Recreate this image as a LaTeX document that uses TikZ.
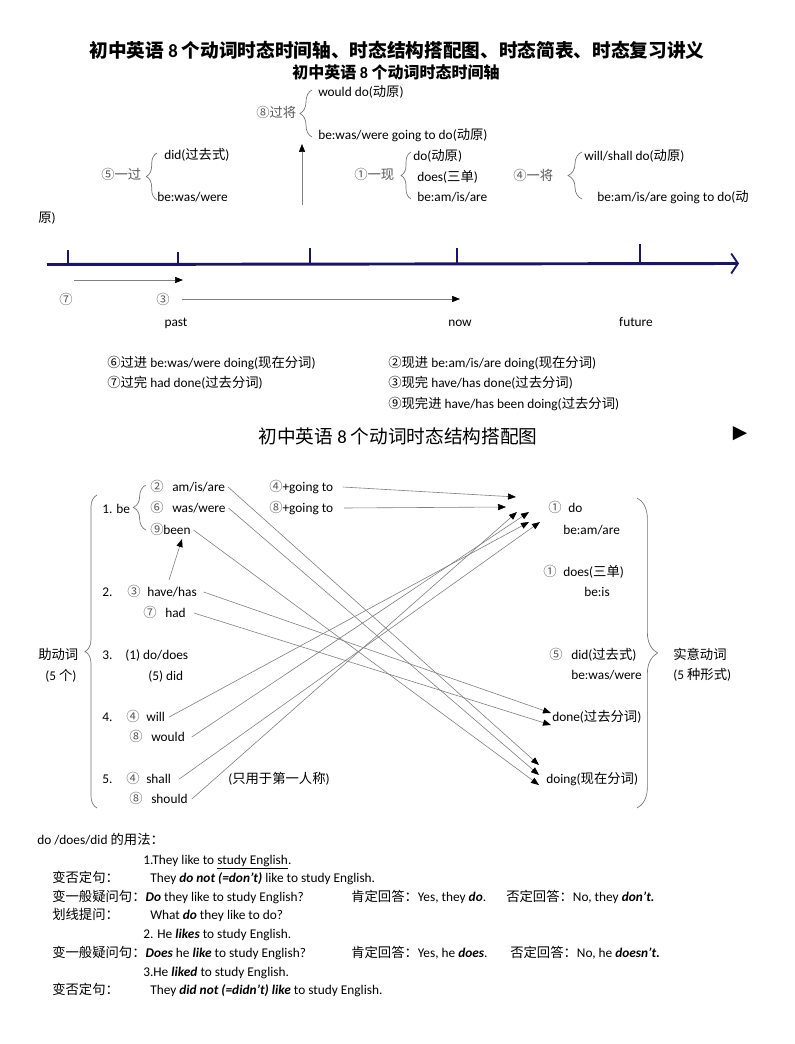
\documentclass[tikz,border=0pt]{standalone}
\usepackage{fontspec}
\setmainfont{Carlito}
\newfontfamily\cjkf{Noto Sans CJK SC}
\newfontfamily\dejavu{DejaVu Sans}
\usetikzlibrary{arrows.meta,decorations.pathreplacing}
\definecolor{navy}{RGB}{25,22,100}
\newXeTeXintercharclass\cjkclass
\newcount\mycnt
\def\setcjkrange#1#2{\mycnt=#1\relax\loop\XeTeXcharclass\mycnt=\cjkclass\advance\mycnt by 1\relax\ifnum\mycnt<#2\relax\repeat}
\setcjkrange{"4E00}{"A000}
\setcjkrange{"3000}{"3040}
\setcjkrange{"FF00}{"FFF0}
\setcjkrange{"2460}{"2500}
\XeTeXinterchartoks 0 \cjkclass = {\cjkf}
\XeTeXinterchartoks 4095 \cjkclass = {\cjkf}
\XeTeXinterchartoks \cjkclass 0 = {\rmfamily}
\XeTeXinterchartoks \cjkclass 4095 = {\rmfamily}
\XeTeXinterchartokenstate=1
\begin{document}
\begin{tikzpicture}[x=0.75pt,y=-0.75pt,
 txt/.style={inner sep=0pt, anchor=west, font=\fontsize{10pt}{12pt}\selectfont, text height=8pt, text depth=1.5pt},
 lbl/.style={txt, text=black!65},
 ttl/.style={inner sep=0pt, font=\fontsize{#1}{#1}\selectfont\bfseries},
 conn/.style={draw=black!50, line width=0.45pt, -{Triangle[length=6pt,width=4.6pt,color=black]}},
 brc/.style={draw=black!55, line width=0.5pt, decorate, decoration={brace, amplitude=#1}},
 axis/.style={draw=navy, line width=2.2pt},
 tick/.style={draw=navy, line width=1.7pt}]
\useasboundingbox (0,0) rectangle (794,1044);
\fill[white] (0,0) rectangle (794,1044);

% ---------- titles
\node[ttl=14pt] (title) at (397,50) {初中英语 8 个动词时态时间轴、时态结构搭配图、时态简表、时态复习讲义};
\node[ttl=12pt] (title2) at (396,72) {初中英语 8 个动词时态时间轴};

% ---------- tense branches above the time line
\node[lbl] (gj) at (256,113) {⑧过将};
\draw[brc=9pt] (312,137) -- (312,90);
\node[txt] (wd) at (318,92) {would do(动原)};
\node[txt] (bwg) at (318,135) {be:was/were going to do(动原)};
\coordinate (upB) at (302,205);
\coordinate (upT) at (302,144);
\draw[conn] (upB) -- (upT);

\node[lbl] (yg) at (101,175) {⑤一过};
\draw[brc=8pt] (157,200) -- (157,153);
\node[txt] (did0) at (164,155) {did(过去式)};
\node[txt] (bww0) at (157,197) {be:was/were};
\node[txt] (yuan) at (38,218) {原)};

\node[lbl] (yx) at (354,175) {①一现};
\draw[brc=7.5pt] (411,199) -- (411,152);
\node[txt] (do0) at (413,156) {do(动原)};
\node[txt] (does0) at (417,177) {does(三单)};
\node[txt] (bam0) at (417,197) {be:am/is/are};

\node[lbl] (yj) at (513,176) {④一将};
\draw[brc=10.5pt] (582,199) -- (582,152);
\node[txt] (wsd) at (584,156) {will/shall do(动原)};
\node[txt] (bamg) at (597,197) {be:am/is/are going to do(动};

% ---------- time line
\coordinate (ax0) at (47,264.5);
\coordinate (ax1) at (739,263.5);
\draw[axis, -{Straight Barb[length=5pt,width=15pt,line width=1.4pt]}] (ax0) -- (ax1);
\foreach \x/\t in {68/250,178/252,310/248,457/248,640/244}
  \draw[tick] (\x,265) -- (\x,\t);

\node[lbl, anchor=center] (c7) at (66,300) {⑦};
\node[lbl, anchor=center] (c3) at (163,300) {③};
\coordinate (g1s) at (74,280);
\coordinate (g1e) at (183,280);
\draw[conn] (g1s) -- (g1e);
\coordinate (g2s) at (182,299);
\coordinate (g2e) at (460,299);
\draw[conn] (g2s) -- (g2e);
\node[txt, anchor=center] (past) at (176,322) {past};
\node[txt, anchor=center] (now) at (460,322) {now};
\node[txt, anchor=center] (future) at (636,322) {future};

\node[txt] (gj6) at (107,363) {⑥过进 be:was/were doing(现在分词)};
\node[txt] (gw7) at (107,383) {⑦过完 had done(过去分词)};
\node[txt] (xj2) at (388,363) {②现进 be:am/is/are doing(现在分词)};
\node[txt] (xw3) at (388,383) {③现完 have/has done(过去分词)};
\node[txt] (xwj9) at (388,404) {⑨现完进 have/has been doing(过去分词)};

% ---------- structure diagram
\node[inner sep=0pt, font=\fontsize{14pt}{16pt}\selectfont] (title3) at (398,436) {初中英语 8 个动词时态结构搭配图};
\node[inner sep=0pt, font=\dejavu\fontsize{14pt}{16pt}\selectfont] (tri) at (740,434) {▶};

\node[txt] (n1) at (102,509) {1. be};
\draw[brc=9.5pt] (146,530) -- (146,485);
\node[lbl] (c2a) at (150,487) {②};
\node[txt] (amis) at (172,487) {am/is/are};
\node[lbl] (c6a) at (150,508) {⑥};
\node[txt] (waswere) at (172,508) {was/were};
\node[lbl] (c9a) at (150,530) {⑨};
\node[txt] (been) at (163,530) {been};
\node[txt] (goingA) at (269,487) {\textcolor{black!65}{④}+going to};
\node[txt] (goingB) at (269,508) {\textcolor{black!65}{⑧}+going to};

\node[txt] (n2) at (102,592) {2.};
\node[lbl] (c3a) at (127,592) {③};
\node[txt] (havehas) at (147,592) {have/has};
\node[lbl] (c7a) at (143,613) {⑦};
\node[txt] (had) at (165,613) {had};

\node[txt] (aux) at (38,655) {助动词};
\node[txt] (aux5) at (45,676) {(5 个)};
\draw[brc=9pt] (97,808) -- (97,495);

\node[txt] (n3) at (102,655) {3.};
\node[txt] (dodoes) at (125,655) {(1) do/does};
\node[txt] (did5) at (148,676) {(5) did};

\node[txt] (n4) at (102,717) {4.};
\node[lbl] (c4a) at (126,717) {④};
\node[txt] (will) at (146,717) {will};
\node[lbl] (c8a) at (129,737) {⑧};
\node[txt] (would) at (151,737) {would};

\node[txt] (n5) at (102,779) {5.};
\node[lbl] (c4b) at (126,779) {④};
\node[txt] (shall) at (146,779) {shall};
\node[lbl] (c8b) at (129,799) {⑧};
\node[txt] (should) at (151,799) {should};
\node[txt] (first) at (228,779) {(只用于第一人称)};

\node[lbl] (c1a) at (548,508) {①};
\node[txt] (do) at (568,508) {do};
\node[txt] (beamare) at (563,530) {be:am/are};
\node[lbl] (c1b) at (543,572) {①};
\node[txt] (does) at (563,572) {does(三单)};
\node[txt] (beis) at (584,592) {be:is};
\node[lbl] (c5a) at (549,655) {⑤};
\node[txt] (did) at (571,655) {did(过去式)};
\node[txt] (bewaswere) at (571,675) {be:was/were};
\node[txt] (done) at (552,717) {done(过去分词)};
\node[txt] (doing) at (546,779) {doing(现在分词)};
\draw[brc=15.5pt] (637,498) -- (637,808);
\node[txt] (real) at (673,655) {实意动词};
\node[txt] (real5) at (673,675) {(5 种形式)};

% arrow tip points
\coordinate (tA) at (516,497);
\coordinate (tB) at (506,507);
\coordinate (tC) at (517,512);
\coordinate (tD) at (529,512);
\coordinate (tE) at (529,522);
\coordinate (tF) at (540,522);
\coordinate (dg1) at (539,765);
\coordinate (dg2) at (539,775);
\coordinate (dg3) at (539,785);
\coordinate (dn1) at (551,713);
\coordinate (dn2) at (551,725);
\coordinate (hv) at (169,580);
\coordinate (bn) at (182,539);

\draw[conn] ([xshift=7pt]goingA.east) -- (tA);
\draw[conn] ([xshift=8pt]goingB.east) -- (tB);
\draw[conn] ([xshift=3pt]should.east) -- (tC);
\draw[conn] ([xshift=5pt]would.east) -- (tD);
\draw[conn] ([xshift=3pt]will.east) -- (tE);
\draw[conn] ([xshift=6pt]shall.east) -- (tF);
\draw[conn] ([xshift=2pt]amis.east) -- (dg1);
\draw[conn] ([xshift=2pt]waswere.east) -- (dg2);
\draw[conn] ([xshift=2pt]been.east) -- (dg3);
\draw[conn] ([xshift=5pt]havehas.east) -- (dn1);
\draw[conn] ([xshift=6pt]had.east) -- (dn2);
\draw[conn] (hv) -- (bn);

% ---------- do/does/did usage
\node[txt] (use) at (37,840) {do /does/did 的用法：};
\node[txt] (s1) at (143,860) {1.They like to \underline{study English}.};
\node[txt] (neg1) at (52,878) {变否定句：};
\node[txt] (neg1t) at (150,878) {They \textbf{\textit{do not (=don’t)}} like to study English.};
\node[txt] (q1) at (52,897) {变一般疑问句：\textbf{\textit{Do}} they like to study English?};
\node[txt] (y1) at (351,897) {肯定回答：Yes, they \textbf{\textit{do}}.};
\node[txt] (no1) at (506,897) {否定回答：No, they \textbf{\textit{don’t.}}};
\node[txt] (wh1) at (52,915) {划线提问：};
\node[txt] (wh1t) at (150,915) {What \textbf{\textit{do}} they like to do?};
\node[txt] (s2) at (143,934) {2. He \textbf{\textit{likes}} to study English.};
\node[txt] (q2) at (52,953) {变一般疑问句：\textbf{\textit{Does}} he \textbf{\textit{like}} to study English?};
\node[txt] (y2) at (351,953) {肯定回答：Yes, he \textbf{\textit{does}}.};
\node[txt] (no2) at (510,953) {否定回答：No, he \textbf{\textit{doesn’t.}}};
\node[txt] (s3) at (143,972) {3.He \textbf{\textit{liked}} to study English.};
\node[txt] (neg3) at (52,990) {变否定句：};
\node[txt] (neg3t) at (150,990) {They \textbf{\textit{did not (=didn’t) like}} to study English.};
\end{tikzpicture}
\end{document}
